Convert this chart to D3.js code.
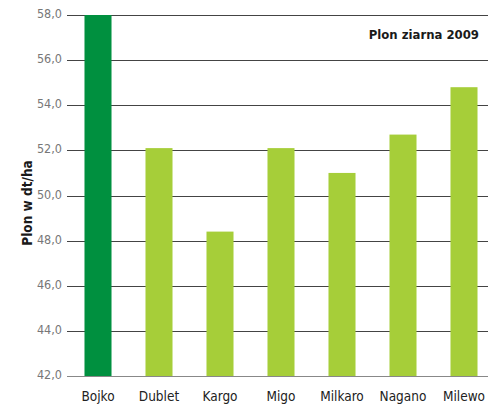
<!DOCTYPE html>
<html><head><meta charset="utf-8">
<script src="https://cdn.jsdelivr.net/npm/d3@7"></script>
<style>
body{margin:0;background:#fff;}
text{font-family:"DejaVu Sans Condensed","DejaVu Sans",sans-serif;font-stretch:condensed;}
</style></head>
<body><svg id="c" width="488" height="408"></svg>
<script>
const categories = ["Bojko","Dublet","Kargo","Migo","Milkaro","Nagano","Milewo"];
const values = [58.0, 52.1, 48.4, 52.1, 51.0, 52.7, 54.8];
const highlight = ["Bojko"];
const yTicks = [42,44,46,48,50,52,54,56,58];
const chartTitle = "Plon ziarna 2009";
const yTitle = "Plon w dt/ha";

(function(){
const svg = d3.select("#c");
const mLeft = 67, mRight = 488, mTop = 15, mBottom = 376;
const y = d3.scaleLinear().domain([42,58]).range([mBottom, mTop]);
const x = d3.scaleBand().domain(categories).range([67.5, 494.5]).paddingInner(0.557).paddingOuter(0.2785);

svg.append("g").selectAll("line").data(yTicks).join("line")
  .attr("x1", mLeft).attr("x2", mRight)
  .attr("y1", d => Math.round(y(d)) + 0.5).attr("y2", d => Math.round(y(d)) + 0.5)
  .attr("stroke", d => d === 42 ? "#888" : "#444").attr("stroke-width", 1.2);

svg.append("g").selectAll("rect").data(categories).join("rect")
  .attr("x", d => x(d)).attr("width", x.bandwidth())
  .attr("y", (d,i) => y(values[i])).attr("height", (d,i) => y(42) - y(values[i]))
  .attr("fill", d => highlight.includes(d) ? "#00903f" : "#a6ce39");

const yAxis = d3.axisLeft(y).tickValues(yTicks).tickSize(0).tickPadding(0)
  .tickFormat(d => d3.format(".1f")(d).replace(".", ","));
const ga = svg.append("g").attr("transform", "translate(62,0)").call(yAxis);
ga.select(".domain").remove();
ga.selectAll("text").attr("fill", "#777").attr("font-size", 12.5).attr("dy", "0.2em");

const xAxis = d3.axisBottom(x).tickSize(0).tickPadding(0);
const gx = svg.append("g").attr("transform", `translate(0,${mBottom})`).call(xAxis);
gx.select(".domain").remove();
gx.selectAll("text").attr("dy", "0").attr("y", 25).attr("fill", "#222").attr("font-size", 13.5);

svg.append("text").attr("x", 479).attr("y", 39).attr("text-anchor", "end")
  .attr("font-weight", "bold").attr("font-size", 13).attr("fill", "#1a1a1a").text(chartTitle);

svg.append("text").attr("transform", `translate(32,203) rotate(-90)`)
  .attr("text-anchor", "middle").attr("font-weight", "bold").attr("font-size", 13.5)
  .attr("fill", "#1a1a1a").text(yTitle);
})();
</script></body></html>
